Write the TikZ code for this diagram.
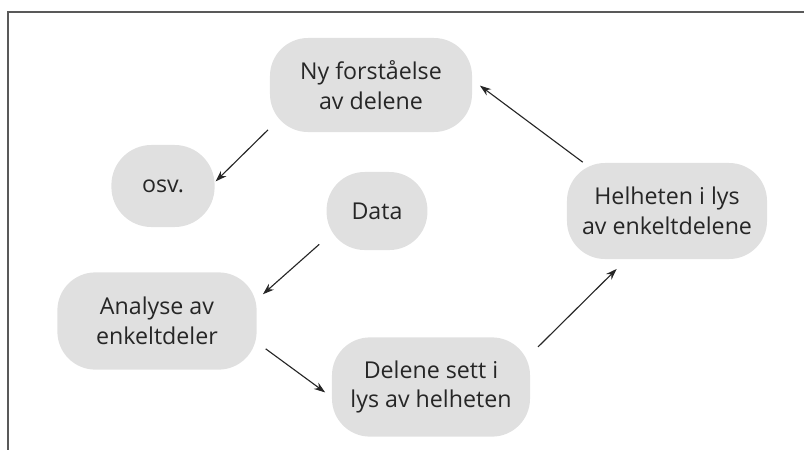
\documentclass[tikz,border=0pt]{standalone}
\usepackage{fontspec}
\setmainfont{Open Sans}
\usetikzlibrary{arrows.meta}
\definecolor{boxgray}{gray}{0.88}
\definecolor{inkgray}{gray}{0.15}
\tikzset{
	stage/.style={draw=none,fill=boxgray,rounded corners=0.95cm,align=center,inner sep=0,outer sep=0,text=inkgray,font=\fontsize{16.5}{21}\selectfont},
	flow/.style={draw=inkgray,line width=0.8pt,-{Stealth[length=8pt,width=5.5pt]}}
}
\begin{document}
\begin{tikzpicture}[x=0.025cm,y=-0.025cm]
	\useasboundingbox (0,0) rectangle (804,450);
	\draw[gray!70!black,line width=0.8pt] (804,12) -- (8,12) -- (8,450);
	\node[stage,minimum width=5.05cm,minimum height=2.35cm] (ny) at (371,85) {Ny forståelse\\av delene};
	\node[stage,minimum width=2.58cm,minimum height=2.05cm,rounded corners=1cm] (osv) at (163,186) {osv.};
	\node[stage,minimum width=2.52cm,minimum height=1.95cm,rounded corners=0.95cm] (data) at (377,211) {Data};
	\node[stage,minimum width=5cm,minimum height=2.4cm] (helhet) at (667,211) {Helheten i lys\\av enkeltdelene};
	\node[stage,minimum width=4.98cm,minimum height=2.43cm] (analyse) at (157,321) {Analyse av\\enkeltdeler};
	\node[stage,minimum width=4.95cm,minimum height=2.48cm] (delene) at (431,387) {Delene sett i\\lys av helheten};
	\draw[flow,shorten <=2pt,shorten >=1pt] (ny.203) -- (osv.4);
	\draw[flow,shorten <=7pt,shorten >=6pt] (data.208) -- (analyse.12);
	\draw[flow,shorten <=8pt,shorten >=6pt] (analyse.348) -- (delene.186);
	\draw[flow,shorten <=8pt,shorten >=10pt] (delene.18) -- (helhet.230);
	\draw[flow,shorten <=1pt,shorten >=7pt] (helhet.150) -- (ny.3);
\end{tikzpicture}
\end{document}
